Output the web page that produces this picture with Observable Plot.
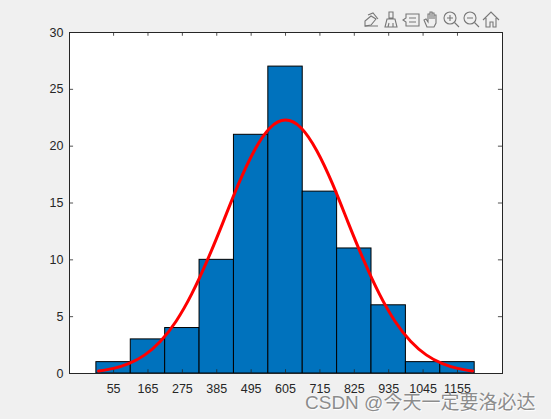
<!DOCTYPE html>
<html><head><meta charset="utf-8">
<script src="https://cdn.jsdelivr.net/npm/d3@7"></script>
<script src="https://cdn.jsdelivr.net/npm/@observablehq/plot@0.6"></script>
<style>
html,body{margin:0;padding:0;background:#f0f0f0;width:551px;height:419px;overflow:hidden}
#chart{position:absolute;left:0;top:0}
#tools{position:absolute;left:362px;top:10px}
#mark{position:absolute;left:305px;top:387px;font:19px "Liberation Sans","Noto Sans CJK SC",sans-serif;color:#8c8c8c;white-space:nowrap;text-shadow:0 0 1.5px #fff,1px 1px 1px #fff}
</style></head><body>
<div id="chart"></div>
<svg id="tools" width="140" height="20" fill="none" stroke="#777" stroke-width="1.1">
  <g><path d="M3 16 L3 11 L9 6 L14 9 L9 15 Z"/><path d="M6 5 L11 3 L16 9 M3 16 H16"/></g>
  <g transform="translate(20,0)"><path d="M7 2 H11 V8 H7 Z M3 17 L5 9 H13 L15 17 Z M7 13 L6 17 M11 13 V17"/></g>
  <g transform="translate(40,0)"><path d="M4 4 H17 V16 H4 V12 L1 10 L4 8 Z M7 8 H14 M7 12 H14"/></g>
  <g transform="translate(60,0)"><path d="M5 17 L2 10 L4 9 L6 12 V4 L8 4 V9 V2 L10 2 V9 V3 L12 3 V9 V5 L14 5 V13 L12 17 Z"/></g>
  <g transform="translate(80,0)"><circle cx="8" cy="8" r="6"/><path d="M12.5 12.5 L17 17 M8 5 V11 M5 8 H11"/></g>
  <g transform="translate(100,0)"><circle cx="8" cy="8" r="6"/><path d="M12.5 12.5 L17 17 M5 8 H11"/></g>
  <g transform="translate(120,0)"><path d="M1 10 L9 2 L17 10 M4 8 V17 H8 V12 H11 V17 H14 V8"/></g>
</svg>
<div id="mark">CSDN @今天一定要洛必达</div>
<script>
const binStart = [0,110,220,330,440,550,660,770,880,990,1100];
const binEnd = [110,220,330,440,550,660,770,880,990,1100,1210];
const counts = [1,3,4,10,21,27,16,11,6,1,1];
const curveX = [7,55,105,155,205,255,305,355,405,455,505,555,605,655,705,755,805,855,905,955,1005,1055,1105,1155,1203];
const curveY = [0.22,0.45,0.89,1.64,2.84,4.6,7.0,9.97,13.3,16.7,19.6,21.6,22.3,21.6,19.6,16.7,13.3,9.97,7.0,4.6,2.84,1.64,0.89,0.45,0.22];
const xTicks = [55,165,275,385,495,605,715,825,935,1045,1155];
const yTicks = [0,5,10,15,20,25,30];
const bins = counts.map((c,i)=>({x1:binStart[i],x2:binEnd[i],y:c}));
const curve = curveX.map((x,i)=>({x,y:curveY[i]}));
const ink = "#262626";
const fig = Plot.plot({
  width:551,height:419,
  marginLeft:69,marginRight:49,marginTop:32,marginBottom:46,
  style:{background:"transparent",fontFamily:"'Liberation Sans',Arial,sans-serif",fontSize:"12.5px",color:ink},
  x:{domain:[-86,1299],label:null},
  y:{domain:[0,30],label:null},
  marks:[
    Plot.frame({fill:"white",stroke:null}),
    Plot.rectY(bins,{x1:"x1",x2:"x2",y:"y",fill:"#0072BD",stroke:"black",strokeWidth:1}),
    Plot.ruleX(xTicks,{x:d=>d,y1:0,y2:0.33,stroke:ink,strokeWidth:0.8}),
    Plot.ruleX(xTicks,{x:d=>d,y1:29.67,y2:30,stroke:ink,strokeWidth:0.8}),
    Plot.ruleY(yTicks,{y:d=>d,x1:-86,x2:-73,stroke:ink,strokeWidth:0.8}),
    Plot.ruleY(yTicks,{y:d=>d,x1:1286,x2:1299,stroke:ink,strokeWidth:0.8}),
    Plot.line(curve,{x:"x",y:"y",stroke:"#ff0000",strokeWidth:3,curve:"natural"}),
    Plot.frame({stroke:ink,strokeWidth:1}),
    Plot.axisX(xTicks,{anchor:"bottom",tickSize:0,tickPadding:11,label:null,fontSize:12.5,fill:ink,tickFormat:d=>String(d)}),
    Plot.axisY(yTicks,{anchor:"left",tickSize:0,tickPadding:6,label:null,fontSize:12.5,fill:ink})
  ]
});
document.getElementById("chart").append(fig);
</script>
</body></html>
